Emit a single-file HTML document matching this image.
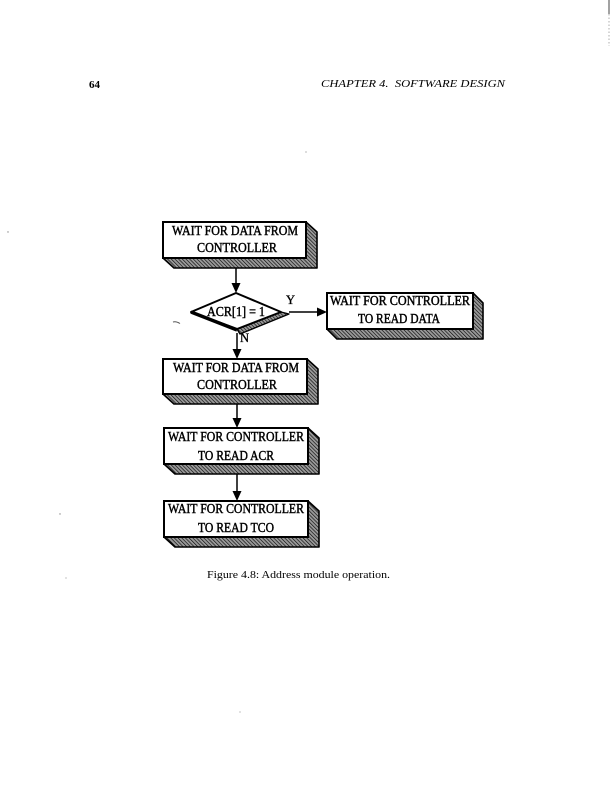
<!DOCTYPE html>
<html>
<head>
<meta charset="utf-8">
<style>
  html, body { margin: 0; padding: 0; background: #fff; }
  body { width: 612px; height: 791px; overflow: hidden; }
  svg { display: block; }
</style>
</head>
<body>
<svg width="612" height="791" viewBox="0 0 612 791" xmlns="http://www.w3.org/2000/svg">
  <defs>
    <pattern id="hatch" width="2.6" height="2.6" patternUnits="userSpaceOnUse" patternTransform="rotate(-45)">
      <rect width="2.6" height="2.6" fill="#999"/>
      <line x1="0" y1="0" x2="0" y2="2.6" stroke="#000" stroke-width="1.2"/>
    </pattern>
  </defs>

  <!-- header -->
  <text x="89" y="88" font-family="Liberation Serif, serif" font-weight="bold" font-size="11" textLength="11" lengthAdjust="spacingAndGlyphs">64</text>
  <text x="321" y="87" font-family="Liberation Serif, serif" font-style="italic" font-size="11" textLength="184" lengthAdjust="spacingAndGlyphs" xml:space="preserve">CHAPTER 4.  SOFTWARE DESIGN</text>

  <!-- scan marks -->
  <line x1="609" y1="0" x2="609" y2="14" stroke="#444" stroke-width="1"/>
  <line x1="609" y1="14" x2="609" y2="46" stroke="#999" stroke-width="0.8" stroke-dasharray="1.5,2"/>
  <path d="M173,322 Q176,321 180,323.5" stroke="#555" stroke-width="1" fill="none"/>
  <circle cx="306" cy="152" r="0.6" fill="#888"/>
  <circle cx="8" cy="232" r="0.7" fill="#888"/>
  <circle cx="60" cy="514" r="0.7" fill="#888"/>
  <circle cx="66" cy="578" r="0.6" fill="#999"/>
  <circle cx="240" cy="712" r="0.6" fill="#999"/>

  <g font-family="Liberation Serif, serif" font-size="13.5" text-anchor="middle" fill="#000" stroke="#000" stroke-width="0.45">
    <!-- Box 1 -->
    <polygon points="306,222 317,232 317,268 174,268 163,258" fill="url(#hatch)" stroke="#000" stroke-width="1.6" stroke-linejoin="round"/>
    <rect x="163" y="222" width="143" height="36" fill="#fff" stroke="#000" stroke-width="2"/>
    <text x="235" y="235" textLength="126" lengthAdjust="spacingAndGlyphs">WAIT FOR DATA FROM</text>
    <text x="237" y="252" textLength="80" lengthAdjust="spacingAndGlyphs">CONTROLLER</text>

    <!-- Box 2 (right) -->
    <polygon points="473,293 483,303 483,339 337,339 327,329" fill="url(#hatch)" stroke="#000" stroke-width="1.6" stroke-linejoin="round"/>
    <rect x="327" y="293" width="146" height="36" fill="#fff" stroke="#000" stroke-width="2"/>
    <text x="400" y="305" textLength="140" lengthAdjust="spacingAndGlyphs">WAIT FOR CONTROLLER</text>
    <text x="399" y="323" textLength="82" lengthAdjust="spacingAndGlyphs">TO READ DATA</text>

    <!-- Box 3 -->
    <polygon points="307,359 318,369 318,404 174,404 163,394" fill="url(#hatch)" stroke="#000" stroke-width="1.6" stroke-linejoin="round"/>
    <rect x="163" y="359" width="144" height="35" fill="#fff" stroke="#000" stroke-width="2"/>
    <text x="236" y="372" textLength="126" lengthAdjust="spacingAndGlyphs">WAIT FOR DATA FROM</text>
    <text x="237" y="389" textLength="80" lengthAdjust="spacingAndGlyphs">CONTROLLER</text>

    <!-- Box 4 -->
    <polygon points="308,428 319,438 319,474 175,474 164,464" fill="url(#hatch)" stroke="#000" stroke-width="1.6" stroke-linejoin="round"/>
    <rect x="164" y="428" width="144" height="36" fill="#fff" stroke="#000" stroke-width="2"/>
    <text x="236" y="441" textLength="136" lengthAdjust="spacingAndGlyphs">WAIT FOR CONTROLLER</text>
    <text x="236" y="460" textLength="76" lengthAdjust="spacingAndGlyphs">TO READ ACR</text>

    <!-- Box 5 -->
    <polygon points="308,501 319,511 319,547 175,547 164,537" fill="url(#hatch)" stroke="#000" stroke-width="1.6" stroke-linejoin="round"/>
    <rect x="164" y="501" width="144" height="36" fill="#fff" stroke="#000" stroke-width="2"/>
    <text x="236" y="513" textLength="136" lengthAdjust="spacingAndGlyphs">WAIT FOR CONTROLLER</text>
    <text x="236" y="532" textLength="76" lengthAdjust="spacingAndGlyphs">TO READ TCO</text>

    <!-- Diamond -->
    <polygon points="281,312 289,314 240,334 237,329" fill="url(#hatch)" stroke="#000" stroke-width="1.4" stroke-linejoin="round"/>
    <polygon points="236,293 281,312 237,329 191,312" fill="#fff" stroke="#000" stroke-width="2" stroke-linejoin="round"/>
    <line x1="191" y1="312" x2="237" y2="330" stroke="#000" stroke-width="3.4"/>
    <text x="236" y="316" textLength="58" lengthAdjust="spacingAndGlyphs">ACR[1] = 1</text>
  </g>

  <!-- connectors -->
  <g stroke="#000" stroke-width="1.5" fill="none">
    <line x1="236" y1="268" x2="236" y2="285"/>
    <line x1="289" y1="312" x2="319" y2="312"/>
    <line x1="237" y1="333" x2="237" y2="351"/>
    <line x1="237" y1="404" x2="237" y2="420"/>
    <line x1="237" y1="474" x2="237" y2="493"/>
  </g>
  <g fill="#000">
    <polygon points="231.5,283 240.5,283 236,293"/>
    <polygon points="317,307.5 317,316.5 327,312"/>
    <polygon points="232.5,349 241.5,349 237,359"/>
    <polygon points="232.5,418 241.5,418 237,428"/>
    <polygon points="232.5,491 241.5,491 237,501"/>
  </g>

  <!-- Y / N labels -->
  <g font-family="Liberation Serif, serif" font-size="12.5" fill="#000" stroke="#000" stroke-width="0.35">
    <text x="286" y="304">Y</text>
    <text x="240" y="342">N</text>
  </g>

  <!-- caption -->
  <text x="207" y="578" font-family="Liberation Serif, serif" font-size="11" textLength="183" lengthAdjust="spacingAndGlyphs">Figure 4.8: Address module operation.</text>
</svg>
</body>
</html>
